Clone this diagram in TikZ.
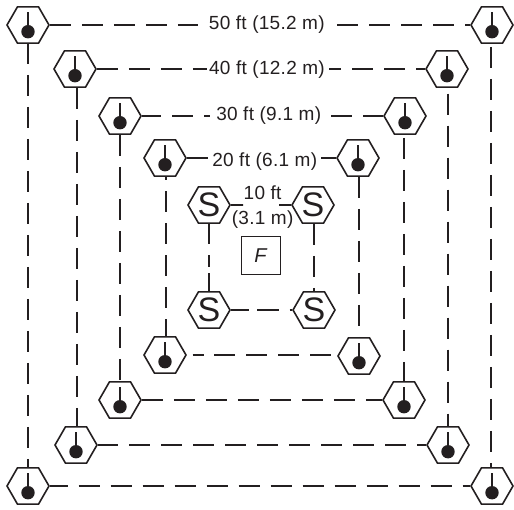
\documentclass[tikz,border=0pt]{standalone}
\usepackage{fontspec}
\setmainfont[LetterSpace=1.4]{Liberation Sans}
\usetikzlibrary{shapes.geometric}
\definecolor{ink}{HTML}{231F20}
\tikzset{
  hexbase/.style={regular polygon,regular polygon sides=6,minimum size=42pt,inner sep=0pt,draw=ink,line width=1.6pt,text=ink},
  det/.style={hexbase,path picture={
    \fill[ink] ([yshift=-6.7pt]path picture bounding box.center) circle (6.7pt);
    \draw[ink,line width=1.6pt] ([yshift=12.7pt]path picture bounding box.center) -- ([yshift=-6.7pt]path picture bounding box.center);}},
  src/.style={hexbase,font=\fontsize{34}{34}\selectfont},
  solidconn/.style={draw=ink,line width=1.6pt},
  conn/.style={solidconn,dash pattern=on 21pt off 11pt,dash phase=#1},
  conn/.default=0pt,
  lab/.style={text=ink,inner sep=0pt,anchor=base,font=\fontsize{19}{25}\selectfont,align=center},
  fbox/.style={draw=ink,line width=0.8pt,minimum width=39pt,minimum height=38.5pt,inner sep=0pt,text=ink,font=\fontsize{20}{20}\selectfont\itshape}
}
\begin{document}
\begin{tikzpicture}[x=1pt,y=-1pt]
\useasboundingbox (0,0) rectangle (514,510);
% labels
\node[lab] (l50) at (266.8,29.5) {50 ft (15.2 m)};
\node[lab] (l40) at (267,74.1) {40 ft (12.2 m)};
\node[lab] (l30) at (268.7,120.5) {30 ft (9.1 m)};
\node[lab] (l20) at (264.7,166.1) {20 ft (6.1 m)};
\node[lab,anchor=center] (l10) at (262.6,207) {10 ft\\(3.1 m)};
\node[fbox] (f) at (260.5,255.2) {F};
% ring 50
\node[det] (a1) at (28,25) {};
\node[det] (a2) at (492,25) {};
\node[det] (a3) at (28,486) {};
\node[det] (a4) at (492,486) {};
% ring 40
\node[det] (b1) at (75,69) {};
\node[det] (b2) at (447,69) {};
\node[det] (b3) at (76,445) {};
\node[det] (b4) at (448,445) {};
% ring 30
\node[det] (c1) at (120,116) {};
\node[det] (c2) at (405,116) {};
\node[det] (c3) at (120,400) {};
\node[det] (c4) at (404,400) {};
% ring 20
\node[det] (d1) at (165,158) {};
\node[det] (d2) at (358,158) {};
\node[det] (d3) at (165,355) {};
\node[det] (d4) at (359,356) {};
% sources
\node[src] (s1) at (209,205) {S};
\node[src] (s2) at (313,205) {S};
\node[src] (s3) at (209,310) {S};
\node[src] (s4) at (314,310) {S};
% free ends of the connectors beside the labels
\coordinate (a5) at (198,25);
\coordinate (a6) at (337,25);
\coordinate (b5) at (207,69);
\coordinate (b6) at (329,69);
\coordinate (c5) at (210,116);
\coordinate (c6) at (331,116);
\coordinate (d5) at (208,158);
\coordinate (d6) at (321,158);
\coordinate (s5) at (243,205);
\coordinate (s6) at (279,205);
% top rows
\draw[conn] (a1.east) -- (a5);
\draw[conn] (a6) -- (a2.west);
\draw[conn] (b1.east) -- (b5);
\draw[conn=8.7pt] (b6) -- (b2.west);
\draw[conn=1.7pt] (c1.east) -- (c5);
\draw[conn] (c6) -- (c2.west);
\draw[solidconn] (d1.east) -- (d5);
\draw[solidconn] (d6) -- (d2.west);
\draw[solidconn] (s1.east) -- (s5);
\draw[solidconn] (s6) -- (s2.west);
% bottom rows
\draw[conn=3.3pt] (a3.east) -- (a4.west);
\draw[conn=0.7pt] (b3.east) -- (b4.west);
\draw[conn] (c3.east) -- (c4.west);
\draw[solidconn,dash pattern=on 11pt off 10.6pt on 21pt off 11pt on 21pt off 11pt on 21pt off 11pt on 21pt off 11pt on 21pt off 11pt] ([xshift=5.7pt]d3.east) -- ([yshift=1pt]d4.west);
\draw[solidconn,dash pattern=on 18pt off 8.4pt on 21.6pt off 10.7pt on 5pt] (s3.east) -- (s4.west);
% columns
\draw[conn=1pt] (a1.south) -- (a3.north);
\draw[conn=29pt] ([xshift=-1pt]a2.south) -- ([xshift=-1pt]a4.north);
\draw[conn] ([xshift=2pt]b1.south) -- ([xshift=1pt]b3.north);
\draw[conn=26.4pt] ([xshift=1pt]b2.south) -- (b4.north);
\draw[conn] (c1.south) -- (c3.north);
\draw[conn=29pt] ([xshift=-1pt]c2.south) -- (c4.north);
\draw[conn=17.6pt] ([xshift=1pt]d1.south) -- ([xshift=1pt]d3.north);
\draw[conn] ([xshift=1pt]d2.south) -- (d4.north);
\draw[solidconn,dash pattern=on 20pt off 11.5pt on 12pt off 5.7pt on 21pt] (s1.south) -- (s3.north);
\draw[conn] ([xshift=1pt]s2.south) -- (s4.north);
\end{tikzpicture}
\end{document}
